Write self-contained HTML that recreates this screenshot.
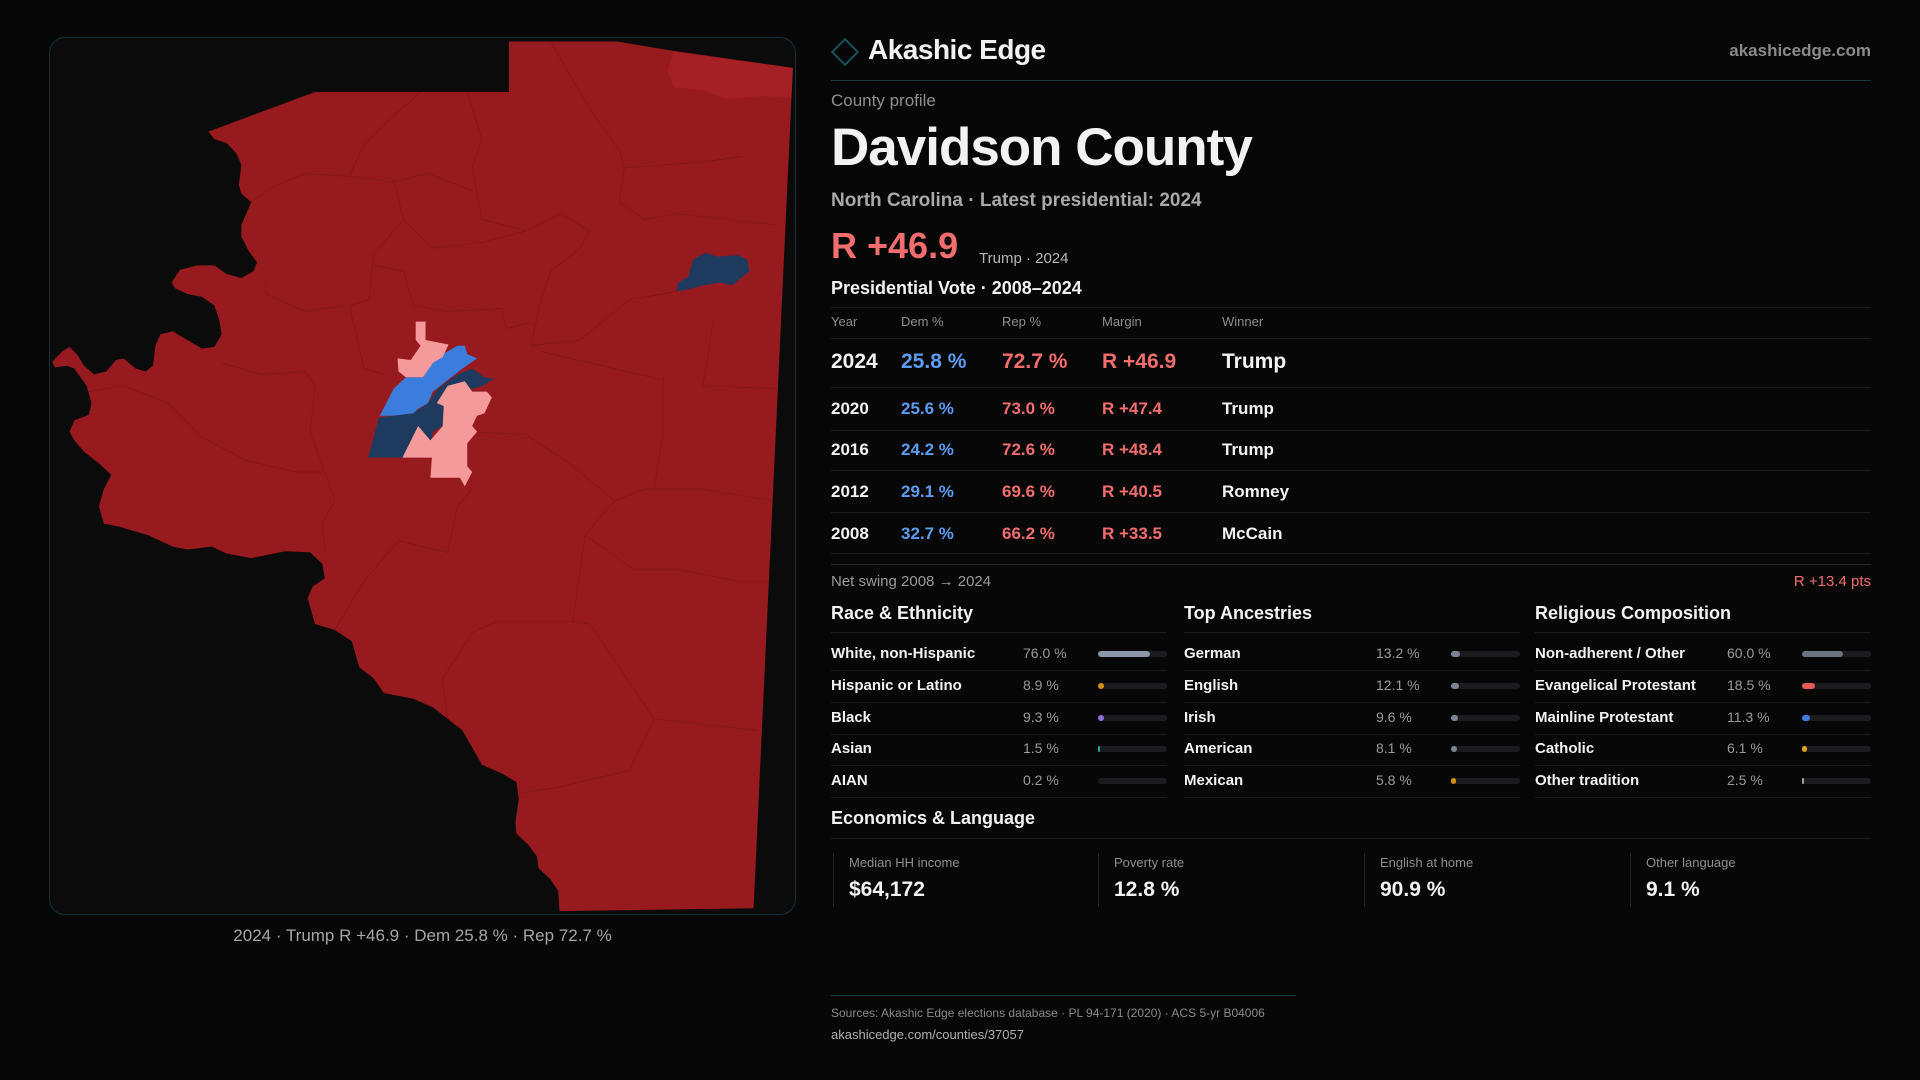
<!DOCTYPE html>
<html><head><meta charset="utf-8"><title>Davidson County profile</title>
<style>
*{margin:0;padding:0;box-sizing:border-box}
body{width:1920px;height:1080px;background:#070708;font-family:"Liberation Sans",sans-serif;color:#f2f2f2;position:relative;overflow:hidden}
.a{position:absolute;white-space:nowrap;line-height:1}
.hl{position:absolute;height:1px;background:#1d1d20}
.g{color:#8e8e8e}
.dem{color:#5b9cf0}.rep{color:#f26d6d}
.track{position:absolute;height:6px;border-radius:3px;background:#1c1c1f}
.fill{position:absolute;left:0;top:0;height:6px;border-radius:3px}
</style></head><body>
<div style="position:absolute;left:49px;top:37px;width:747px;height:878px;border:1px solid #12323a;border-radius:16px;background:#0b0b0c;overflow:hidden"></div>
<svg style="position:absolute;left:0;top:0" width="1920" height="1080">
<g transform="translate(40,30) scale(0.4911,0.574)">
<path fill="#971a1e" d="M955,20 L1175,20 L1280,35 L1533,66 L1453,1530 L1058,1535 L1055,1500 L1040,1480 L1015,1460 L1012,1440 L995,1420 L970,1400 L968,1380 L975,1340 L970,1310 L940,1295 L900,1280 L880,1250 L860,1220 L830,1200 L800,1180 L760,1165 L700,1155 L680,1130 L650,1110 L635,1065 L600,1045 L560,1035 L545,990 L555,970 L580,955 L575,930 L550,910 L500,908 L430,920 L380,912 L350,900 L300,905 L270,900 L220,880 L160,865 L130,860 L120,830 L130,800 L145,775 L120,755 L90,735 L70,715 L60,700 L70,680 L100,670 L105,650 L95,620 L70,590 L55,585 L30,588 L25,578 L45,560 L60,552 L75,565 L90,585 L110,600 L135,595 L155,575 L170,572 L195,590 L215,595 L230,585 L235,550 L245,530 L270,525 L300,540 L330,555 L355,552 L370,530 L365,505 L355,480 L330,465 L300,460 L275,450 L268,440 L285,418 L320,410 L355,410 L380,425 L410,432 L435,420 L442,405 L425,385 L410,360 L410,340 L420,320 L430,300 L410,285 L405,270 L410,235 L400,215 L380,197 L355,190 L343,177 L560,108 L955,108 Z"/>
<path fill="#a52024" d="M1290,38 L1533,66 L1530,118 L1470,115 L1400,120 L1350,105 L1290,100 L1278,70 Z"/>
<g fill="none" stroke="#6e1215" stroke-width="1.5" opacity="0.45">
<path d="M1040,20 L1100,110 L1130,150 L1180,210 L1190,240 L1260,235 L1350,230 L1430,220"/>
<path d="M870,108 L900,190 L880,240 L900,330 L990,350 L1060,320 L1120,350 L1100,380 L1040,420 L1020,470 L1000,550 L1100,540 L1200,470 L1300,455"/>
<path d="M430,300 L470,275 L540,250 L630,255 L660,200 L720,150 L775,108"/>
<path d="M630,255 L720,265 L790,250 L880,280"/>
<path d="M720,260 L740,330 L680,390 L670,470 L630,480 L660,590 L700,600"/>
<path d="M740,330 L800,380 L900,370 L990,350"/>
<path d="M680,410 L740,420 L760,480 L830,490 L940,485 L950,520 L1000,510"/>
<path d="M460,440 L460,460 L540,490 L620,480"/>
<path d="M370,580 L450,600 L540,595 L560,620 L550,700 L580,770 L600,820 L575,860 L580,910"/>
<path d="M100,630 L170,620 L260,650 L330,710 L420,750 L520,770 L580,770"/>
<path d="M880,700 L990,705 L1070,750 L1170,820 L1230,800 L1350,800 L1490,820"/>
<path d="M1170,820 L1120,870 L1110,880 L1085,1030 L930,1030 L880,1050 L820,1130 L830,1200"/>
<path d="M1085,1030 L1120,1035 L1250,1200 L1460,1220"/>
<path d="M1250,1200 L1200,1290 L1050,1320 L975,1330"/>
<path d="M1110,880 L1210,940 L1300,940 L1420,960 L1480,960"/>
<path d="M1270,600 L1270,700 L1250,800"/>
<path d="M1370,510 L1350,620 L1500,625"/>
<path d="M1020,560 L1120,580 L1270,610"/>
<path d="M600,1045 L660,960 L730,890 L830,910 L850,830 L880,800"/>
<path d="M1190,240 L1180,300 L1230,330 L1300,320 L1400,330 L1500,340"/>
</g>
<path fill="#3b7ddd" d="M692,672 L720,625 L745,605 L780,605 L800,580 L820,565 L850,550 L865,550 L870,565 L890,572 L860,590 L830,610 L800,630 L790,650 L770,660 L760,668 L720,672 Z"/>
<path fill="#1e3a5f" d="M668,745 L690,675 L760,668 L790,650 L810,625 L850,600 L880,590 L905,605 L925,608 L900,620 L880,625 L850,635 L830,650 L820,690 L800,700 L795,720 L790,745 Z"/>
<path fill="#f59a9a" d="M765,508 L785,508 L785,540 L832,548 L820,570 L800,580 L780,605 L745,605 L730,595 L728,572 L755,575 L775,550 L765,540 Z"/>
<path fill="#f59a9a" d="M808,650 L830,620 L865,612 L880,630 L910,630 L920,640 L905,668 L890,672 L880,690 L890,700 L870,720 L870,760 L880,770 L865,795 L855,780 L835,780 L795,780 L798,745 L738,745 L770,690 L795,715 L820,690 L822,655 Z"/>
<path fill="#1e3a5f" d="M1295,455 L1300,440 L1320,430 L1330,400 L1355,388 L1380,395 L1420,392 L1440,400 L1445,420 L1430,430 L1410,445 L1385,440 L1350,445 L1320,452 Z"/>
</g>
</svg>
<div class="a" style="left:0;width:845px;text-align:center;top:927px;font-size:17px;color:#a5a5a5">2024 · Trump R +46.9 · Dem 25.8 % · Rep 72.7 %</div>

<div style="position:absolute;left:835px;top:42px;width:20px;height:20px;border:2px solid #15525a;transform:rotate(45deg)"></div>
<div class="a" style="left:868px;top:36px;font-size:28px;font-weight:bold;letter-spacing:-0.5px">Akashic Edge</div>
<div class="a g" style="right:49px;top:42px;font-size:17px;font-weight:bold;color:#8a8a8a">akashicedge.com</div>
<div class="hl" style="left:831px;width:1040px;top:80px;background:#173a40"></div>
<div class="a g" style="left:831px;top:92px;font-size:17px">County profile</div>
<div class="a" style="left:831px;top:121px;font-size:53px;font-weight:bold;letter-spacing:-1px">Davidson County</div>
<div class="a" style="left:831px;top:191px;font-size:19px;font-weight:bold;color:#a8a8a8">North Carolina · Latest presidential: 2024</div>
<div class="a rep" style="left:831px;top:228px;font-size:36px;font-weight:bold">R +46.9</div>
<div class="a" style="left:979px;top:251px;font-size:15px;color:#b5b5b5">Trump · 2024</div>
<div class="a" style="left:831px;top:279px;font-size:18px;font-weight:bold">Presidential Vote · 2008–2024</div>
<div class="hl" style="left:831px;width:1040px;top:307px"></div>
<div class="a g" style="left:831px;top:315px;font-size:13px">Year</div>
<div class="a g" style="left:901px;top:315px;font-size:13px">Dem %</div>
<div class="a g" style="left:1002px;top:315px;font-size:13px">Rep %</div>
<div class="a g" style="left:1102px;top:315px;font-size:13px">Margin</div>
<div class="a g" style="left:1222px;top:315px;font-size:13px">Winner</div>
<div class="hl" style="left:831px;width:1040px;top:338px"></div>
<div id="vote-rows"></div>

<div class="hl" style="left:831px;width:1040px;top:564px;background:#26262a"></div>
<div class="a g" style="left:831px;top:574px;font-size:15px;color:#9a9a9a">Net swing 2008 → 2024</div>
<div class="a rep" style="right:49px;top:574px;font-size:15px">R +13.4 pts</div>
<div id="demo"></div>

<div class="a" style="left:831px;top:809px;font-size:18px;font-weight:bold">Economics &amp; Language</div>
<div class="hl" style="left:831px;width:1040px;top:838px"></div>
<div id="econ"></div>

<div class="hl" style="left:831px;width:465px;top:995px;background:#173a40"></div>
<div class="a g" style="left:831px;top:1007px;font-size:12px;color:#8a8a8a">Sources: Akashic Edge elections database · PL 94-171 (2020) · ACS 5-yr B04006</div>
<div class="a" style="left:831px;top:1028px;font-size:13px;color:#b0b0b0">akashicedge.com/counties/37057</div>

<script>
const years=["2024","2020","2016","2012","2008"];
const demPct=[25.8,25.6,24.2,29.1,32.7];
const repPct=[72.7,73.0,72.6,69.6,66.2];
const winners=["Trump","Trump","Trump","Romney","McCain"];
const raceLabels=["White, non-Hispanic","Hispanic or Latino","Black","Asian","AIAN"];
const raceValues=[76.0,8.9,9.3,1.5,0.2];
const ancLabels=["German","English","Irish","American","Mexican"];
const ancValues=[13.2,12.1,9.6,8.1,5.8];
const relLabels=["Non-adherent / Other","Evangelical Protestant","Mainline Protestant","Catholic","Other tradition"];
const relValues=[60.0,18.5,11.3,6.1,2.5];
const econLabels=["Median HH income","Poverty rate","English at home","Other language"];
const econValues=["$64,172","12.8 %","90.9 %","9.1 %"];

const vr=document.getElementById('vote-rows');
const rowY=[361,408,449,491,533], ruleY=[387,430,470,512,553];
years.forEach((y,i)=>{
  const fs=i===0?21:17;
  const top=rowY[i]-fs/2;
  const m=repPct[i]-demPct[i];
  const cells=[[y,831,'#f2f2f2','vote-year'],[demPct[i].toFixed(1)+' %',901,'#5b9cf0','vote-dem'],[repPct[i].toFixed(1)+' %',1002,'#f26d6d','vote-rep'],[(m>=0?'R +':'D +')+Math.abs(m).toFixed(1),1102,'#f26d6d','vote-margin'],[winners[i],1222,'#f2f2f2','vote-winner']];
  cells.forEach(c=>{
    const d=document.createElement('div');
    d.className='a';
    
    
    d.style.cssText=`left:${c[1]}px;top:${top}px;font-size:${fs}px;font-weight:bold;color:${c[2]}`;
    d.textContent=c[0];vr.appendChild(d);
  });
  const l=document.createElement('div');l.className='hl';
  
  
  l.style.cssText=`left:831px;width:1040px;top:${ruleY[i]}px`;
  vr.appendChild(l);
});

const demo=document.getElementById('demo');
const groups=[["Race & Ethnicity",raceLabels,raceValues,["#8a96aa","#d4900f","#8a6fd8","#2aa198","#6b7280"]],
["Top Ancestries",ancLabels,ancValues,["#7d8594","#7d8594","#7d8594","#7d8594","#d4900f"]],
["Religious Composition",relLabels,relValues,["#6b7280","#e05a5a","#3b7ddd","#e0a020","#9aa0aa"]]];
const colX=[831,1184,1535], dRowY=[654,686,718,749,781];
function barW(v){return v/100*69;}
groups.forEach((g,gi)=>{
  const x=colX[gi];
  const h=document.createElement('div');h.className='a';
  
  
  h.style.cssText=`left:${x}px;top:604px;font-size:18px;font-weight:bold`;h.textContent=g[0];demo.appendChild(h);
  const hr=document.createElement('div');hr.className='hl';
  
  
  hr.style.cssText=`left:${x}px;width:336px;top:632px`;demo.appendChild(hr);
  g[1].forEach((lab,i)=>{
    const y=dRowY[i];
    const a=document.createElement('div');a.className='a';
    
    
    a.style.cssText=`left:${x}px;top:${y-8}px;font-size:15px;font-weight:bold`;a.textContent=lab;demo.appendChild(a);
    const v=document.createElement('div');v.className='a';
    
    
    v.style.cssText=`left:${x+192}px;top:${y-8}px;font-size:14px;color:#9a9a9a`;v.textContent=g[2][i].toFixed(1)+' %';demo.appendChild(v);
    const t=document.createElement('div');t.className='track';
    
    
    t.style.cssText=`left:${x+267}px;top:${y-3}px;width:69px`;
    const f=document.createElement('div');f.className='fill';
    
    
    f.style.width=Math.max(5,barW(g[2][i]))+'px';
    if(g[2][i]<3){f.style.width='2px';f.style.borderRadius='1px';}
    if(g[2][i]<0.5){f.style.width='0px';}
    f.style.background=g[3][i];
    t.appendChild(f);demo.appendChild(t);
    const r=document.createElement('div');r.className='hl';
    
    
    r.style.cssText=`left:${x}px;width:336px;top:${y+16}px;background:#19191c`;demo.appendChild(r);
  });
});

const econ=document.getElementById('econ');
const cardX=[833,1098,1364,1630];
econLabels.forEach((l,i)=>{
  const c=document.createElement('div');
  
  
  c.style.cssText=`position:absolute;left:${cardX[i]}px;top:853px;width:250px;height:54px;border-left:1px solid #222225`;
  c.innerHTML=`<div class="a" style="left:15px;top:3px;font-size:13px;color:#8e8e8e">${l}</div><div class="a" style="left:15px;top:26px;font-size:21px;font-weight:bold">${econValues[i]}</div>`;
  econ.appendChild(c);
});
</script>
</body></html>
